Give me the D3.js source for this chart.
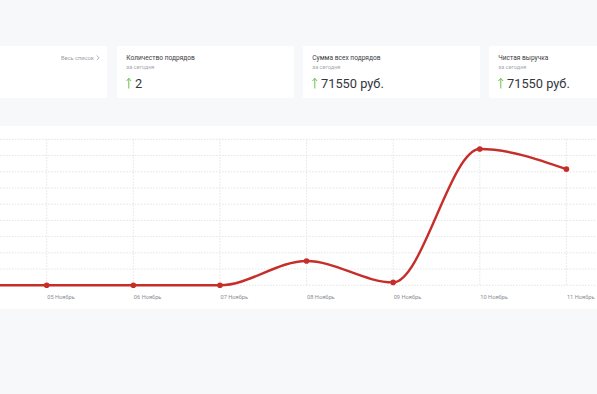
<!DOCTYPE html>
<html><head><meta charset="utf-8">
<script src="https://cdn.jsdelivr.net/npm/d3@7"></script>
<style>
html,body{margin:0;padding:0;background:#f7f8fa;}
svg{display:block;font-family:Roboto,"Noto Sans",sans-serif;}
</style></head>
<body>
<svg id="c" width="597" height="394"></svg>
<script>
const categories = ["04 Ноябрь","05 Ноябрь","06 Ноябрь","07 Ноябрь","08 Ноябрь","09 Ноябрь","10 Ноябрь","11 Ноябрь"];
const values = [0, 0, 0, 0, 7500, 900, 42000, 35800];
const gridTicks = d3.range(0, 45001, 5000);
const cardTitles = ["Количество подрядов","Сумма всех подрядов","Чистая выручка"];
const cardSubtitles = ["за сегодня","за сегодня","за сегодня"];
const cardValues = ["2","71550 руб.","71550 руб."];

const svg = d3.select("#c");
svg.append("rect").attr("width",597).attr("height",394).attr("fill","#f7f8fa");

// cards
const cardX = [-70, 117, 303, 489];
const cardW = 177;
cardX.forEach(x => {
  svg.append("rect").attr("x",x).attr("y",46).attr("width",cardW).attr("height",52).attr("fill","#fff");
});
svg.append("text").attr("x",61).attr("y",59.5).attr("font-size",5.7).attr("fill","#9a9ea6").text("Весь список");
svg.append("path").attr("d","M96.8,55.5 L99,57.8 L96.8,60.1").attr("fill","none").attr("stroke","#9a9ea6").attr("stroke-width",0.8);
cardTitles.forEach((t,i) => {
  const x = cardX[i+1] + 9.3;
  svg.append("text").attr("x",x).attr("y",60).attr("font-size",6.6).attr("fill","#3a3d44").text(t);
  svg.append("text").attr("x",x).attr("y",68.5).attr("font-size",5.6).attr("fill","#a6aab2").text(cardSubtitles[i]);
  // arrow
  svg.append("path").attr("d",`M${x+2.5},88.5 L${x+2.5},78.5 M${x+0.2},81 L${x+2.5},78.3 L${x+4.8},81`)
    .attr("fill","none").attr("stroke","#6cc24a").attr("stroke-width",1);
  svg.append("text").attr("x",x+8.7).attr("y",88.3).attr("font-size",12.8).attr("fill","#33363d").text(cardValues[i]);
});

// chart panel
svg.append("rect").attr("x",0).attr("y",126).attr("width",597).attr("height",183).attr("fill","#fff");

const x = d3.scalePoint().domain(categories).range([-39.9, 566.4]);
const y = d3.scaleLinear().domain([0, 45000]).range([285.3, 139.3]);

const g = svg.append("g");
g.selectAll("line.h").data(gridTicks).join("line").attr("class","h")
  .attr("x1",0).attr("x2",597).attr("y1",d=>y(d)).attr("y2",d=>y(d))
  .attr("stroke","#dcdde0").attr("stroke-width",0.8).attr("stroke-dasharray","1.5,1.5");
g.selectAll("line.v").data(categories).join("line").attr("class","v")
  .attr("x1",d=>x(d)).attr("x2",d=>x(d)).attr("y1",y(45000)).attr("y2",y(0))
  .attr("stroke","#dcdde0").attr("stroke-width",0.8).attr("stroke-dasharray","1.5,1.5");

// axis labels (first category lies off-screen)
const xAxis = d3.axisBottom(x).tickSize(0).tickPadding(0).tickValues(categories.slice(1));
const ax = svg.append("g").attr("transform",`translate(0,${y(0)})`).call(xAxis);
ax.select(".domain").remove();
ax.selectAll("text").attr("text-anchor","start").attr("dy",0).attr("y",13.5)
  .attr("font-size",5.7).attr("fill","#8a8e96").attr("font-family","Roboto,sans-serif");

const line = d3.line().x((d,i)=>x(categories[i])).y(d=>y(d)).curve(d3.curveMonotoneX);
svg.append("path").datum(values).attr("d",line).attr("fill","none")
  .attr("stroke","#c62e2a").attr("stroke-width",2.4);
svg.selectAll("circle.p").data(values).join("circle").attr("class","p")
  .attr("cx",(d,i)=>x(categories[i])).attr("cy",d=>y(d)).attr("r",2.8).attr("fill","#c62e2a");
</script>
</body></html>
